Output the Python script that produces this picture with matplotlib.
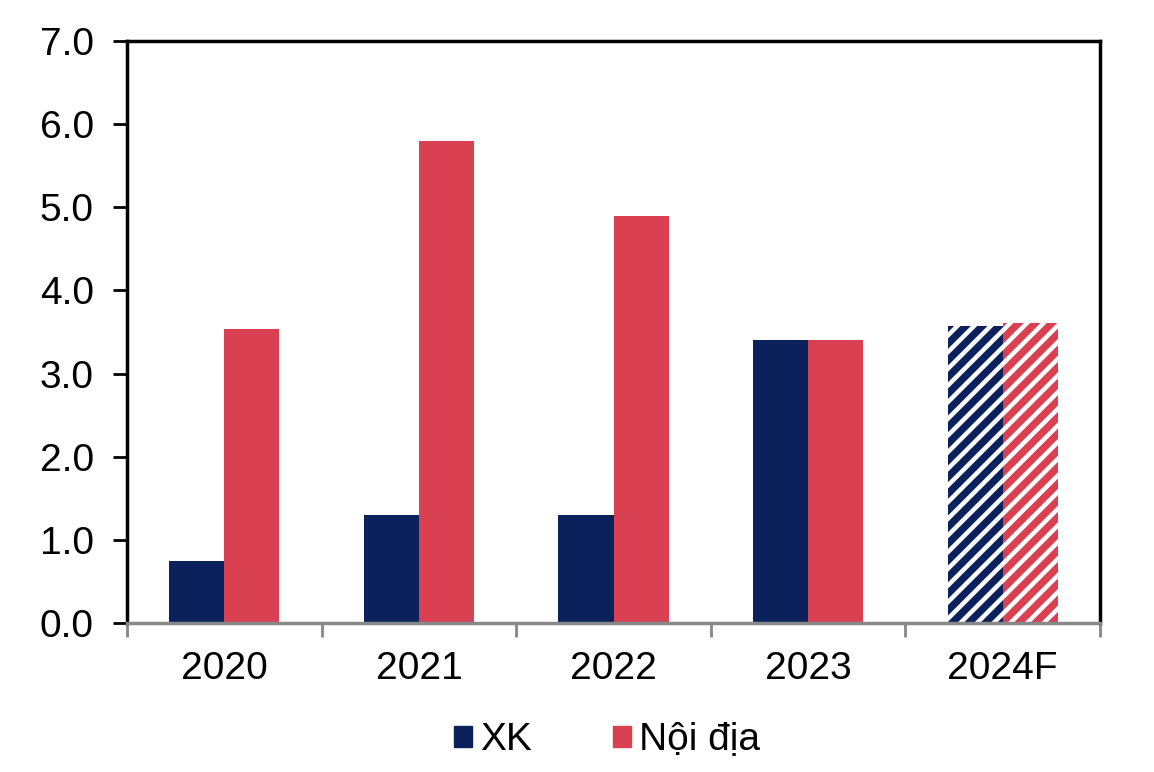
import numpy as np
import matplotlib.pyplot as plt
from matplotlib.patches import Patch

plt.rcParams['font.family'] = ['Liberation Sans', 'DejaVu Sans']
plt.rcParams['hatch.color'] = 'white'
plt.rcParams['hatch.linewidth'] = 3.2

years = ["2020", "2021", "2022", "2023", "2024F"]
xk = [0.75, 1.30, 1.30, 3.40, 3.57]
noi_dia = [3.54, 5.80, 4.90, 3.40, 3.61]
forecast = [False, False, False, False, True]

navy = "#0a215c"
red = "#d94152"

fig = plt.figure(figsize=(11.54, 7.72), dpi=100)
ax = fig.add_axes([127/1154, 1-623/772, (1100-127)/1154, (623-41)/772])

x = np.arange(len(years))
w = 0.283
for i in range(len(years)):
    h = "//" if forecast[i] else None
    ax.bar(x[i] - w/2, xk[i], w, color=navy, hatch=h, linewidth=0)
    ax.bar(x[i] + w/2, noi_dia[i], w, color=red, hatch=h, linewidth=0)

ax.set_xlim(-0.5, len(years) - 0.5)
ax.set_ylim(0, 7)
ax.set_yticks(np.arange(0, 7.1, 1.0))
ax.set_yticklabels([f"{v:.1f}" for v in np.arange(0, 7.1, 1.0)], fontsize=28)
ax.tick_params(axis='y', direction='out', length=10, width=2, pad=14, color='black')

ax.set_xticks(x)
ax.set_xticklabels(years, fontsize=28)
ax.set_xticks(np.arange(-0.5, len(years)), minor=True)
ax.tick_params(axis='x', which='major', length=0, pad=20)
ax.tick_params(axis='x', which='minor', length=10, width=2, color='#888888')

for s in ['left', 'top', 'right']:
    ax.spines[s].set_linewidth(2.5)
    ax.spines[s].set_color('black')
ax.spines['bottom'].set_color('#888888')
ax.spines['bottom'].set_linewidth(2.5)

handles = [Patch(color=navy, label="XK"), Patch(color=red, label="Nội địa")]
fig.legend(handles=handles, loc='center', bbox_to_anchor=(0.526, 0.041), ncol=2,
           frameon=False, fontsize=28, handlelength=0.46, handleheight=0.46,
           handletextpad=0.2, columnspacing=2.1)

fig.savefig("out.png", dpi=100)
